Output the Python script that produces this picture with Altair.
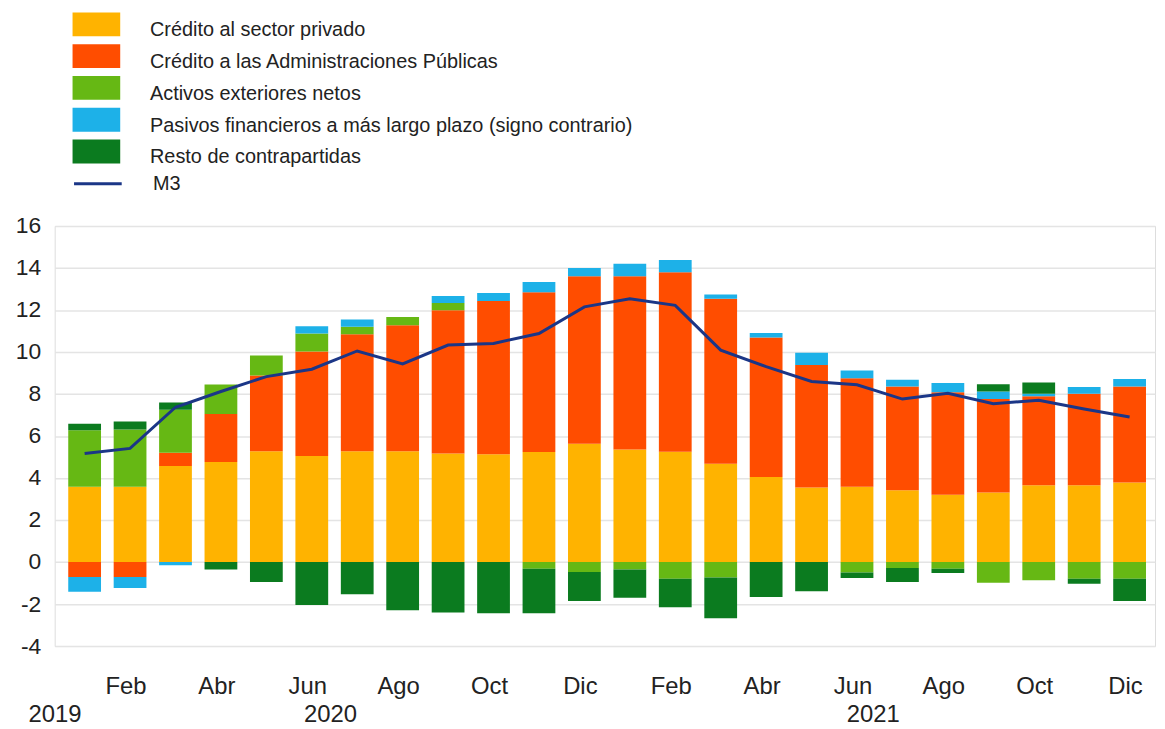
import altair as alt
import pandas as pd

# ---- data ----
series_names = [
    "Crédito al sector privado",
    "Crédito a las Administraciones Públicas",
    "Activos exteriores netos",
    "Pasivos financieros a más largo plazo (signo contrario)",
    "Resto de contrapartidas",
]
series_colors = ["#FFB300", "#FF4D00", "#66B814", "#1DB1E8", "#0B7B1F"]

credito_privado = [3.58, 3.58, 4.57, 4.76, 5.28, 5.05, 5.28, 5.28, 5.17, 5.13, 5.24, 5.63,
                   5.36, 5.25, 4.68, 4.05, 3.55, 3.58, 3.42, 3.20, 3.31, 3.66, 3.66, 3.79]
credito_aapp = [-0.71, -0.71, 0.63, 2.29, 3.60, 4.97, 5.57, 6.00, 6.82, 7.30, 7.61, 7.98,
                8.25, 8.55, 7.86, 6.64, 5.83, 5.17, 4.94, 4.88, 4.45, 4.23, 4.35, 4.57]
activos_ext = [2.70, 2.73, 2.05, 1.40, 0.95, 0.86, 0.35, 0.39, 0.34, 0.00, -0.32, -0.47,
               -0.35, -0.79, -0.74, 0.00, 0.00, -0.50, -0.28, -0.32, -0.98, -0.87, -0.79, -0.79]
pasivos_lp = [-0.71, -0.52, -0.15, 0.00, 0.00, 0.35, 0.35, 0.00, 0.34, 0.38, 0.48, 0.39,
              0.59, 0.58, 0.20, 0.22, 0.59, 0.37, 0.32, 0.44, 0.36, 0.12, 0.32, 0.35]
resto = [0.31, 0.38, 0.35, -0.36, -0.95, -2.05, -1.53, -2.29, -2.40, -2.44, -2.12, -1.39,
         -1.35, -1.36, -1.94, -1.66, -1.39, -0.26, -0.67, -0.20, 0.35, 0.54, -0.24, -1.07]
m3 = [5.17, 5.41, 7.37, 8.12, 8.83, 9.18, 10.05, 9.43, 10.33, 10.41, 10.88, 12.15,
      12.54, 12.22, 10.09, 9.30, 8.60, 8.44, 7.76, 8.04, 7.54, 7.70, 7.29, 6.91]

month_names = ["Ene", "Feb", "Mar", "Abr", "May", "Jun", "Jul", "Ago", "Sep", "Oct", "Nov", "Dic"]
year_labels = ["2019", "2020", "2021"]
year_label_pos = [-0.65, 5.41, 17.36]

n = len(m3)
all_series = [credito_privado, credito_aapp, activos_ext, pasivos_lp, resto]

rows = []
for s_idx, (name, vals) in enumerate(zip(series_names, all_series)):
    for i, v in enumerate(vals):
        rows.append({"i": i, "serie": name, "orden": s_idx, "valor": v})
bars_df = pd.DataFrame(rows)
line_df = pd.DataFrame({"i": list(range(n)), "valor": m3, "serie": ["M3"] * n})
years_df = pd.DataFrame({"i": year_label_pos, "label": year_labels})

FONT = "Liberation Sans"
TXT = "#222222"

month_arr = "[" + ",".join("'%s'" % m for m in month_names) + "]"

x_scale = alt.Scale(domain=[-0.55, 23.45], nice=False, zero=False)
x_axis = alt.Axis(
    values=[k - 0.1 for k in range(1, n, 2)],
    labelExpr=month_arr + "[round(datum.value) % 12]",
    title=None, grid=False, ticks=False, domain=False,
    labelFontSize=24, labelColor=TXT, labelFont=FONT, labelPadding=29,
)
y_scale = alt.Scale(domain=[-4, 16], nice=False)
y_axis = alt.Axis(
    values=list(range(-4, 17, 2)), title=None, ticks=False, domain=False,
    labelExpr="'' + datum.value",
    labelFontSize=23, labelColor=TXT, labelFont=FONT, labelPadding=14,
    gridColor="#e4e4e4", gridWidth=1.5,
)

bars = alt.Chart(bars_df).mark_bar(size=33).encode(
    x=alt.X("i:Q", scale=x_scale, axis=x_axis),
    y=alt.Y("valor:Q", stack="zero", scale=y_scale, axis=y_axis),
    color=alt.Color(
        "serie:N",
        scale=alt.Scale(domain=series_names, range=series_colors),
        legend=alt.Legend(
            orient="none", legendX=30, legendY=-209, title=None,
            symbolType="M-2,-1.5H2V0.5H-2Z", symbolSize=576, symbolStrokeWidth=0,
            symbolOpacity=1, labelFontSize=20, labelFont=FONT, labelColor=TXT,
            labelOffset=42, rowPadding=4, labelLimit=800,
        ),
    ),
    order=alt.Order("orden:Q", sort="ascending"),
)

line = alt.Chart(line_df).mark_line(strokeWidth=3).encode(
    x=alt.X("i:Q", scale=x_scale),
    y=alt.Y("valor:Q", scale=y_scale),
    stroke=alt.Stroke(
        "serie:N",
        scale=alt.Scale(domain=["M3"], range=["#1B3687"]),
        legend=alt.Legend(
            orient="none", legendX=30, legendY=-56, title=None,
            symbolType="M-2,0H2", symbolSize=576, symbolStrokeWidth=3,
            labelFontSize=20, labelFont=FONT, labelColor=TXT, labelOffset=42,
        ),
    ),
)

years = alt.Chart(years_df).mark_text(
    fontSize=24, font=FONT, color=TXT, align="center", baseline="middle"
).encode(
    x=alt.X("i:Q", scale=x_scale),
    y=alt.value(492),
    text="label:N",
)

chart = alt.layer(bars, line, years).resolve_scale(color="independent").properties(
    width=1108, height=423,
    autosize=alt.AutoSizeParams(type="none"),
    padding={"left": 47, "top": 217, "right": 2, "bottom": 80},
).configure_view(stroke="#dddddd", strokeWidth=1.5).configure(background="white")

chart.save("out.html", embed_options={"renderer": "svg", "actions": False})
